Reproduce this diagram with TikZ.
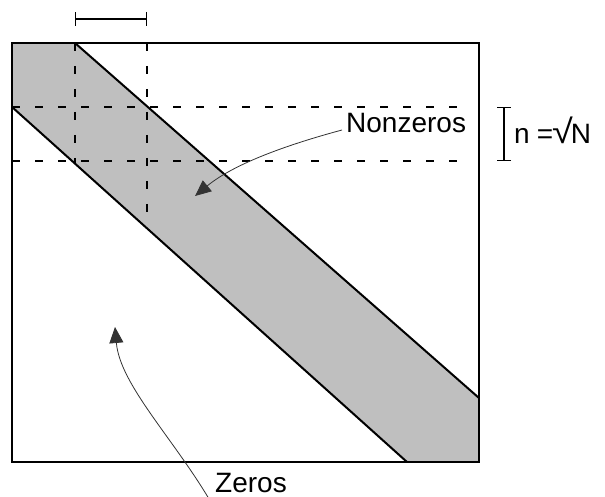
\documentclass[tikz,border=0pt]{standalone}
\usepackage{fontspec}
\setmainfont{Liberation Sans}
\usetikzlibrary{arrows.meta}
\begin{document}
\begin{tikzpicture}[x=1pt, y=-1pt, line cap=butt, line join=miter]
% Banded matrix sketch, picture units are pixels of the figure
\providecommand{\bandFillColor}{black!25}
\providecommand{\bandLineWidth}{2pt}
\providecommand{\guideLineWidth}{1.6pt}
\providecommand{\labelFont}{\fontsize{28}{32}\selectfont}
\tikzset{
  guideline/.style={draw=black, line width=\guideLineWidth, dash pattern=on 8pt off 15pt},
  barline/.style={draw=black, line width=1.4pt, {Bar[width=14pt]}-{Bar[width=14pt]}},
  pointer/.style={draw=black!80, line width=0.8pt, -{Triangle[length=16pt,width=14pt]}},
  textlabel/.style={inner sep=0pt, anchor=base west, font=\labelFont}
}
\useasboundingbox (0,0) rectangle (605,497);
  % Band of nonzeros
  \fill[\bandFillColor] (12,43) -- (75,43) -- (479,398) -- (479,462) -- (407,462) -- (12,107) -- cycle;
  % Guide lines
  \draw[guideline] (75,43) -- (75,164);
  \draw[guideline] (147,43) -- (147,212);
  \draw[guideline] (12,107) -- (457,107);
  \draw[guideline] (12,161) -- (457,161);
  % Band edges
  \draw[line width=\bandLineWidth] (75,43) -- (479,398);
  \draw[line width=\bandLineWidth] (12,107) -- (407,462);
  % Outer frame
  \draw[line width=\bandLineWidth] (12,43) rectangle (479,462);
  % Scale bars
  \draw[barline] (75,19) -- (147,19);
  \draw[barline] (504,107) -- (504,161);
  % Labels
  \node[textlabel] (nonzeros) at (346,133) {Nonzeros};
  \node[textlabel, font=\fontsize{28}{32}\selectfont] (bandwidth) at (514,144) {n\hspace{7pt}=\hspace{-1pt}\scalebox{1.35}[1.2]{√}\hspace{-2pt}N};
  \node[textlabel] (zeros) at (215,492) {Zeros};
  % Pointers
  \coordinate (nonzerosTip) at (195,196);
  \coordinate (zerosTip) at (115,327);
  \draw[pointer] ([xshift=-4pt,yshift=3pt]nonzeros.base west) .. controls (290,144) and (235,163) .. (nonzerosTip);
  \draw[pointer] ([xshift=-3pt,yshift=-12pt]zeros.base west) .. controls (175,440) and (120,385) .. (zerosTip);
\end{tikzpicture}
\end{document}
